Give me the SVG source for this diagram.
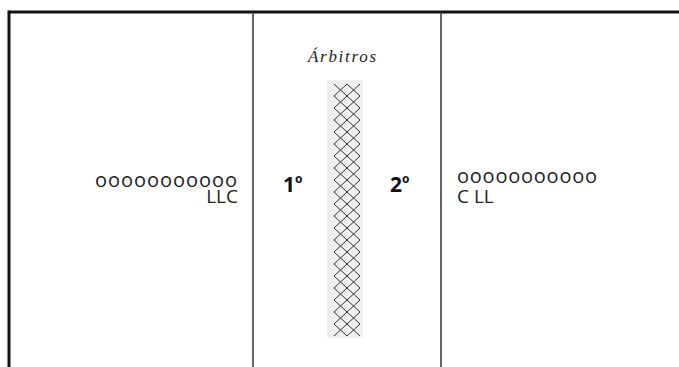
<svg xmlns="http://www.w3.org/2000/svg" width="679" height="367" viewBox="0 0 679 367">
<style>
.lbl{font-family:"Open Sans","Liberation Sans",sans-serif;font-size:19px;fill:#222}
.oo{font-family:"Open Sans","Liberation Sans",sans-serif;font-size:20px;fill:#222}
.num{font-family:"Open Sans","Liberation Sans",sans-serif;font-size:21px;font-weight:bold;fill:#111}
.title{font-family:"Liberation Serif",serif;font-style:italic;font-size:17px;fill:#222}
.frame{stroke:#111;stroke-width:3;fill:none}
.div{stroke:#333;stroke-width:1.5;fill:none}
</style>
<defs>
<pattern id="net" patternUnits="userSpaceOnUse" x="334" y="84" width="13" height="12">
<path d="M0,0 L13,12 M13,0 L0,12" stroke="#333" stroke-width="1" fill="none"/>
</pattern>
</defs>
<rect width="679" height="367" fill="#ffffff"/>
<g id="frame">
<line class="frame" x1="9" y1="12" x2="679" y2="12"/>
<line class="frame" x1="9" y1="10.5" x2="9" y2="367"/>
<line class="div" x1="253" y1="12" x2="253" y2="367"/>
<line class="div" x1="441" y1="12" x2="441" y2="367"/>
</g>
<g id="title">
<text class="title" x="342" y="62" text-anchor="middle" textLength="68" lengthAdjust="spacing">Árbitros</text>
</g>
<g id="net-column">
<rect x="327" y="80" width="36" height="258" fill="#efefef"/>
<rect x="334" y="84" width="26" height="252" fill="url(#net)"/>
</g>
<g id="left-team">
<text class="oo" x="237" y="187" text-anchor="end" textLength="142" lengthAdjust="spacing">ooooooooooo</text>
<text class="lbl" x="238" y="203" text-anchor="end">LLC</text>
</g>
<g id="referee-1">
<text class="num" x="283" y="192">1<tspan font-size="12" dy="-9">o</tspan></text>
</g>
<g id="referee-2">
<text class="num" x="390" y="192">2<tspan font-size="12" dy="-9">o</tspan></text>
</g>
<g id="right-team">
<text class="oo" x="457" y="183" textLength="140" lengthAdjust="spacing">ooooooooooo</text>
<text class="lbl" x="457" y="203">C LL</text>
</g>
<g id="connectors"></g>
</svg>
